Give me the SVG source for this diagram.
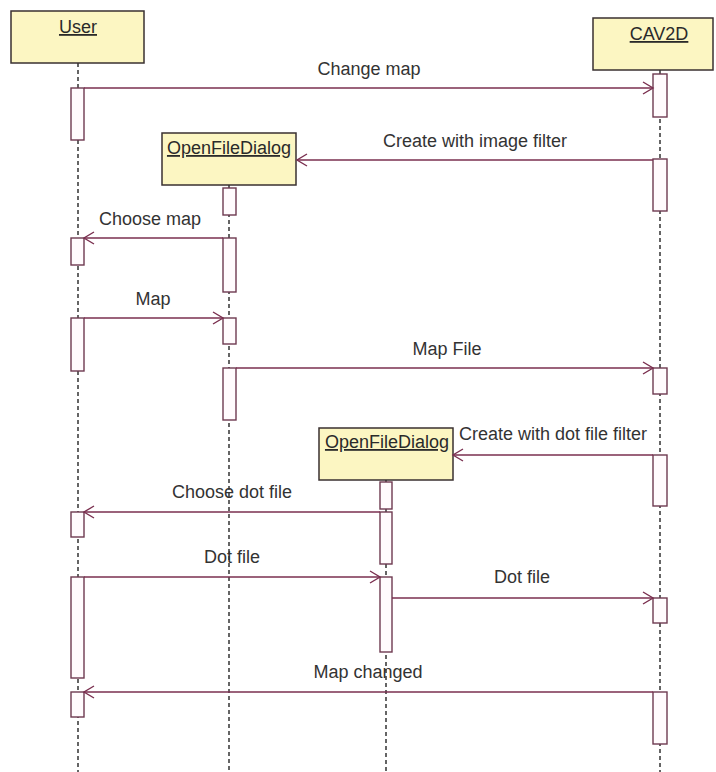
<svg xmlns="http://www.w3.org/2000/svg" width="716" height="772" viewBox="0 0 716 772">
  <defs>
    <marker id="open" markerUnits="userSpaceOnUse" markerWidth="14" markerHeight="14" refX="11" refY="7" orient="auto">
      <path d="M1,1 L11,7 L1,13" fill="none" stroke="#7a2f4f" stroke-width="1.4"/>
    </marker>
  </defs>
  <style>
    .obj { fill: #fcf6c2; stroke: #3a3030; stroke-width: 1.5; }
    .life { stroke: #333; stroke-width: 1.5; stroke-dasharray: 4 3; fill: none; }
    .act { fill: #fffbfd; stroke: #6e3a50; stroke-width: 1.4; }
    .name { font-family: "Liberation Sans", Arial, sans-serif; font-size: 18px; fill: #2a2a2a; text-anchor: middle; text-decoration: underline; }
    .msg { stroke: #7a2f4f; stroke-width: 1.5; fill: none; marker-end: url(#open); }
    .lbl { font-family: "Liberation Sans", Arial, sans-serif; font-size: 18px; fill: #333; text-anchor: middle; }
  </style>
  <rect width="716" height="772" fill="#fff"/>

  <g id="user">
    <line class="life" x1="78" y1="63" x2="78" y2="772"/>
    <rect class="obj" x="11" y="11" width="133" height="52"/>
    <text class="name" x="78" y="33">User</text>
    <rect class="act" x="71" y="88" width="13" height="52"/>
    <rect class="act" x="71" y="238" width="13" height="27"/>
    <rect class="act" x="71" y="318" width="13" height="53"/>
    <rect class="act" x="71" y="512" width="13" height="25"/>
    <rect class="act" x="71" y="577" width="13" height="101"/>
    <rect class="act" x="71" y="692" width="13" height="25"/>
  </g>

  <g id="cav2d">
    <line class="life" x1="660" y1="70" x2="660" y2="772"/>
    <rect class="obj" x="593" y="18" width="120" height="52"/>
    <text class="name" x="659" y="40">CAV2D</text>
    <rect class="act" x="653" y="74" width="14" height="43"/>
    <rect class="act" x="653" y="159" width="14" height="52"/>
    <rect class="act" x="653" y="368" width="14" height="26"/>
    <rect class="act" x="653" y="455" width="14" height="51"/>
    <rect class="act" x="653" y="598" width="14" height="25"/>
    <rect class="act" x="653" y="692" width="14" height="52"/>
  </g>

  <g id="openfiledialog1">
    <line class="life" x1="229" y1="185" x2="229" y2="772"/>
    <rect class="obj" x="162" y="133" width="134" height="52"/>
    <text class="name" x="229" y="154">OpenFileDialog</text>
    <rect class="act" x="223" y="188" width="13" height="27"/>
    <rect class="act" x="223" y="238" width="13" height="54"/>
    <rect class="act" x="223" y="318" width="13" height="26"/>
    <rect class="act" x="223" y="368" width="13" height="52"/>
  </g>

  <g id="openfiledialog2">
    <line class="life" x1="386" y1="480" x2="386" y2="772"/>
    <rect class="obj" x="319" y="428" width="134" height="52"/>
    <text class="name" x="387" y="448">OpenFileDialog</text>
    <rect class="act" x="380" y="482" width="12" height="27"/>
    <rect class="act" x="380" y="512" width="12" height="52"/>
    <rect class="act" x="380" y="577" width="12" height="75"/>
  </g>

  <g id="connectors">
    <line class="msg" x1="84" y1="88" x2="653" y2="88"/>
    <text class="lbl" x="369" y="75">Change map</text>

    <line class="msg" x1="653" y1="160" x2="297" y2="160"/>
    <text class="lbl" x="475" y="147">Create with image filter</text>

    <line class="msg" x1="223" y1="238" x2="84" y2="238"/>
    <text class="lbl" x="150" y="225">Choose map</text>

    <line class="msg" x1="84" y1="318" x2="223" y2="318"/>
    <text class="lbl" x="153" y="305">Map</text>

    <line class="msg" x1="236" y1="368" x2="653" y2="368"/>
    <text class="lbl" x="447" y="355">Map File</text>

    <line class="msg" x1="653" y1="455" x2="453" y2="455"/>
    <text class="lbl" x="553" y="440">Create with dot file filter</text>

    <line class="msg" x1="380" y1="512" x2="84" y2="512"/>
    <text class="lbl" x="232" y="498">Choose dot file</text>

    <line class="msg" x1="84" y1="577" x2="380" y2="577"/>
    <text class="lbl" x="232" y="563">Dot file</text>

    <line class="msg" x1="392" y1="598" x2="653" y2="598"/>
    <text class="lbl" x="522" y="583">Dot file</text>

    <line class="msg" x1="653" y1="692" x2="84" y2="692"/>
    <text class="lbl" x="368" y="678">Map changed</text>
  </g>
</svg>
